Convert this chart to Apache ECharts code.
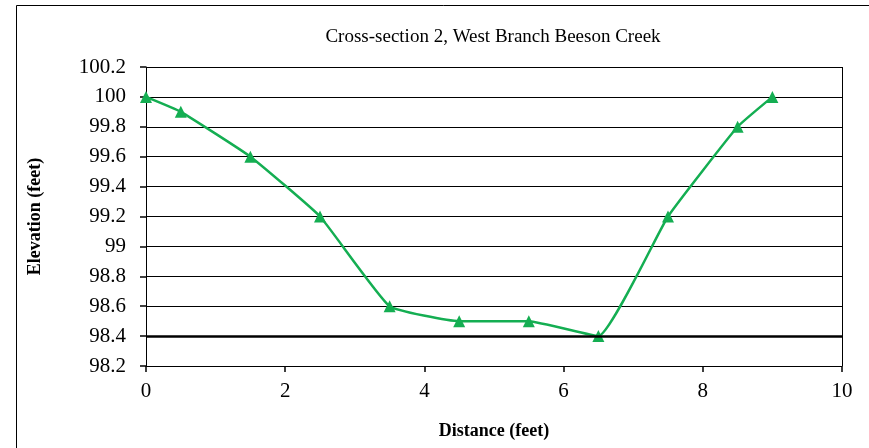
<!DOCTYPE html>
<html>
<head>
<meta charset="utf-8">
<script src="https://cdn.jsdelivr.net/npm/echarts@6/dist/echarts.min.js"></script>
<style>
  html, body { margin: 0; padding: 0; background: #fff; }
</style>
</head>
<body>
<div id="main" style="width:869px;height:448px;"></div>
<script>
  // 数据
  var distance = [0, 0.5, 1.5, 2.5, 3.5, 4.5, 5.5, 6.5, 7.5, 8.5, 9];
  var elevation = [100, 99.9, 99.6, 99.2, 98.6, 98.5, 98.5, 98.4, 99.2, 99.8, 100];
  var baseLine = 98.4;

  var chart = echarts.init(document.getElementById("main"));
  var font = "'Liberation Serif', 'DejaVu Serif', serif";

  var points = distance.map(function(d, i) {
    return [d, elevation[i]];
  });

  chart.setOption({
    animation: false,
    title: {
      text: "Cross-section 2, West Branch Beeson Creek",
      left: 488,
      top: 23,
      textAlign: "center",
      textStyle: { fontFamily: font, fontSize: 19, fontWeight: "normal", color: "#000" }
    },
    graphic: [
      {
        type: "rect",
        shape: { x: 16.5, y: 5.5, width: 900, height: 500 },
        style: { fill: "none", stroke: "#000", lineWidth: 1 },
        silent: true
      }
    ],
    grid: { left: 146, right: 27, top: 67, bottom: 82 },
    xAxis: {
      type: "value",
      min: 0,
      max: 10,
      interval: 2,
      name: "Distance (feet)",
      nameLocation: "middle",
      nameGap: 56,
      nameTextStyle: { fontFamily: font, fontSize: 18, fontWeight: "bold", color: "#000" },
      axisLine: { show: true, lineStyle: { color: "#000", width: 1 } },
      axisTick: { show: true, length: 6, lineStyle: { color: "#000", width: 1.5 } },
      axisLabel: { fontFamily: font, fontSize: 21, color: "#000", margin: 15 },
      splitLine: { show: false }
    },
    yAxis: {
      type: "value",
      min: 98.2,
      max: 100.2,
      interval: 0.2,
      name: "Elevation (feet)",
      nameLocation: "middle",
      nameRotate: 90,
      nameGap: 102,
      nameTextStyle: { fontFamily: font, fontSize: 18, fontWeight: "bold", color: "#000" },
      axisLine: { show: true, lineStyle: { color: "#000", width: 1 } },
      axisTick: { show: true, length: 6, lineStyle: { color: "#000", width: 1.5 } },
      axisLabel: {
        fontFamily: font, fontSize: 21, color: "#000", margin: 20,
        formatter: function(v) { return String(parseFloat(v.toFixed(1))); }
      },
      splitLine: { show: true, lineStyle: { color: "#000", width: 1 } }
    },
    series: [
      {
        type: "line",
        data: points,
        smooth: 0.12,
        symbol: "triangle",
        symbolSize: 12,
        itemStyle: { color: "#14ae52" },
        lineStyle: { color: "#14ae52", width: 2.5 },
        markLine: {
          silent: true,
          symbol: "none",
          label: { show: false },
          lineStyle: { color: "#000", width: 2.5, type: "solid" },
          data: [{ yAxis: baseLine }]
        }
      },
      {
        // 右边框
        type: "line",
        data: [],
        markLine: {
          silent: true,
          symbol: "none",
          label: { show: false },
          lineStyle: { color: "#000", width: 1, type: "solid" },
          data: [{ xAxis: 10 }]
        }
      }
    ]
  });
</script>
</body>
</html>
